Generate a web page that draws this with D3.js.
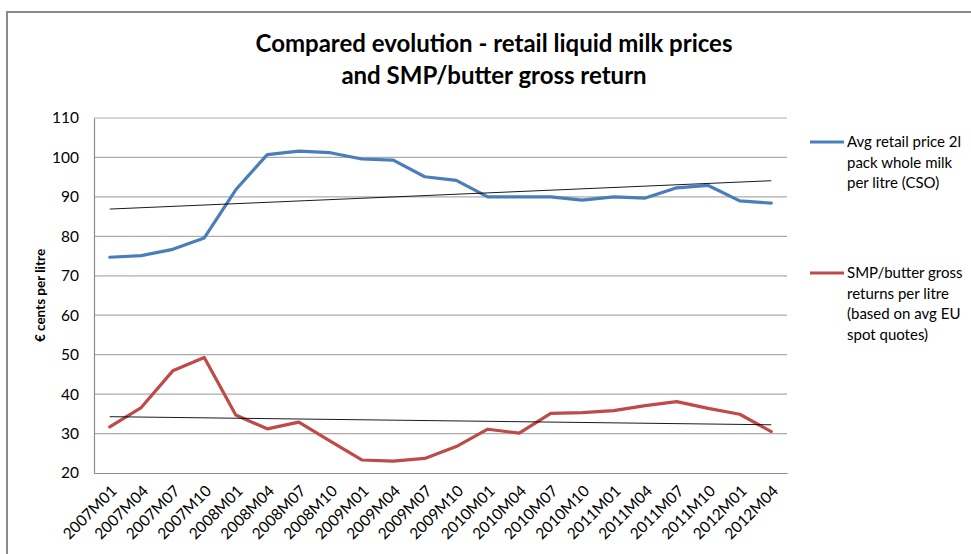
<!DOCTYPE html>
<html>
<head>
<meta charset="utf-8">
<script src="https://cdn.jsdelivr.net/npm/d3@7"></script>
<style>
  html, body { margin: 0; padding: 0; background: #fff; }
  svg { display: block; }
  text { font-family: Lato, "Open Sans", sans-serif; fill: #000; }
</style>
</head>
<body>
<svg id="chart" width="971" height="554"></svg>
<script>
const categories = ["2007M01","2007M04","2007M07","2007M10","2008M01","2008M04","2008M07","2008M10",
  "2009M01","2009M04","2009M07","2009M10","2010M01","2010M04","2010M07","2010M10",
  "2011M01","2011M04","2011M07","2011M10","2012M01","2012M04"];
const retailPrice = [74.7,75.1,76.7,79.6,91.8,100.7,101.6,101.2,99.6,99.3,95.1,94.2,
  90.0,90.0,90.0,89.2,90.0,89.7,92.3,92.9,89.0,88.4];
const smpButter = [31.7,36.6,45.9,49.3,34.7,31.2,32.9,28.1,23.3,23.0,23.7,26.7,
  31.1,30.1,35.1,35.3,35.8,37.1,38.1,36.4,34.9,30.5];
const yTicks = [20,30,40,50,60,70,80,90,100,110];
const titleLines = ["Compared evolution - retail liquid milk prices", "and SMP/butter gross return"];
const yAxisTitle = "€ cents per litre";
const legendBlue = ["Avg retail price 2l", "pack whole milk", "per litre (CSO)"];
const legendRed = ["SMP/butter gross", "returns per litre", "(based on avg EU", "spot quotes)"];

const svg = d3.select("#chart");
const m = {left: 94, right: 787, top: 118, bottom: 473};

// chart frame (left and top edges visible)
svg.append("path").attr("d", `M7,560 L7,12 L975,12`)
  .attr("fill", "none").attr("stroke", "#8a8a8a").attr("stroke-width", 2);

const x = d3.scaleBand().domain(categories).range([m.left, m.right]);
const y = d3.scaleLinear().domain([20, 110]).range([m.bottom, m.top]);
const cx = d => x(d) + x.bandwidth() / 2;

// gridlines
svg.append("g").selectAll("line").data(yTicks.slice(1)).join("line")
  .attr("x1", m.left).attr("x2", m.right)
  .attr("y1", d => y(d)).attr("y2", d => y(d))
  .attr("stroke", "#ababab").attr("stroke-width", 1.2);

// y axis
const yAxis = svg.append("g").attr("transform", `translate(${m.left},0)`)
  .call(d3.axisLeft(y).tickValues(yTicks).tickSize(0).tickPadding(15));
yAxis.select(".domain").attr("stroke", "#8c8c8c").attr("stroke-width", 1.2);
yAxis.selectAll("text").style("font-family", "Lato, sans-serif").style("font-size", "15.5px").attr("fill", "#000");

// x axis
const xAxis = svg.append("g").attr("transform", `translate(0,${m.bottom})`)
  .call(d3.axisBottom(x).tickSize(0).tickPadding(0));
xAxis.select(".domain").attr("stroke", "#8c8c8c").attr("stroke-width", 1.2);
xAxis.selectAll("text")
  .style("font-family", "Lato, sans-serif").style("font-size", "15.5px").attr("fill", "#000")
  .attr("text-anchor", "end")
  .attr("dy", null).attr("y", 0)
  .attr("transform", "translate(8,19) rotate(-45)");

// y axis title
svg.append("text")
  .attr("transform", `translate(45,${(m.top + m.bottom) / 2}) rotate(-90)`)
  .attr("text-anchor", "middle").style("font-weight", "bold").style("font-size", "13.5px")
  .text(yAxisTitle);

// title
svg.append("g").selectAll("text").data(titleLines).join("text")
  .attr("x", 494).attr("y", (d, i) => 52 + i * 32)
  .attr("text-anchor", "middle").style("font-weight", "bold").style("font-size", "24px")
  .text(d => d);

// lines
const line = d3.line().x((d, i) => cx(categories[i])).y(d => y(d));
const series = [
  {values: retailPrice, color: "#4a7ebb", legend: legendBlue, ly: 142},
  {values: smpButter, color: "#be4b48", legend: legendRed, ly: 273}
];

// trendlines (linear least squares, like the spreadsheet's trendline)
function linFit(vals) {
  const n = vals.length, xs = d3.range(n);
  const mx = d3.mean(xs), my = d3.mean(vals);
  const b = d3.sum(xs, (xi, i) => (xi - mx) * (vals[i] - my)) / d3.sum(xs, xi => (xi - mx) ** 2);
  return [my - b * mx, my + b * (n - 1 - mx)];
}

series.forEach(s => {
  svg.append("path").datum(s.values)
    .attr("d", line).attr("fill", "none")
    .attr("stroke", s.color).attr("stroke-width", 3.2)
    .attr("stroke-linejoin", "round").attr("stroke-linecap", "round");
});
series.forEach(s => {
  const [a, b] = linFit(s.values);
  svg.append("line")
    .attr("x1", cx(categories[0])).attr("x2", cx(categories[categories.length - 1]))
    .attr("y1", y(a)).attr("y2", y(b))
    .attr("stroke", "#000").attr("stroke-width", 0.9);
});

// legend
series.forEach(s => {
  svg.append("line").attr("x1", 810).attr("x2", 844).attr("y1", s.ly).attr("y2", s.ly)
    .attr("stroke", s.color).attr("stroke-width", 3.2);
  svg.append("g").selectAll("text").data(s.legend).join("text")
    .attr("x", 847).attr("y", (d, i) => s.ly + 5 + i * 20.7)
    .style("font-size", "15px")
    .text(d => d);
});
</script>
</body>
</html>
